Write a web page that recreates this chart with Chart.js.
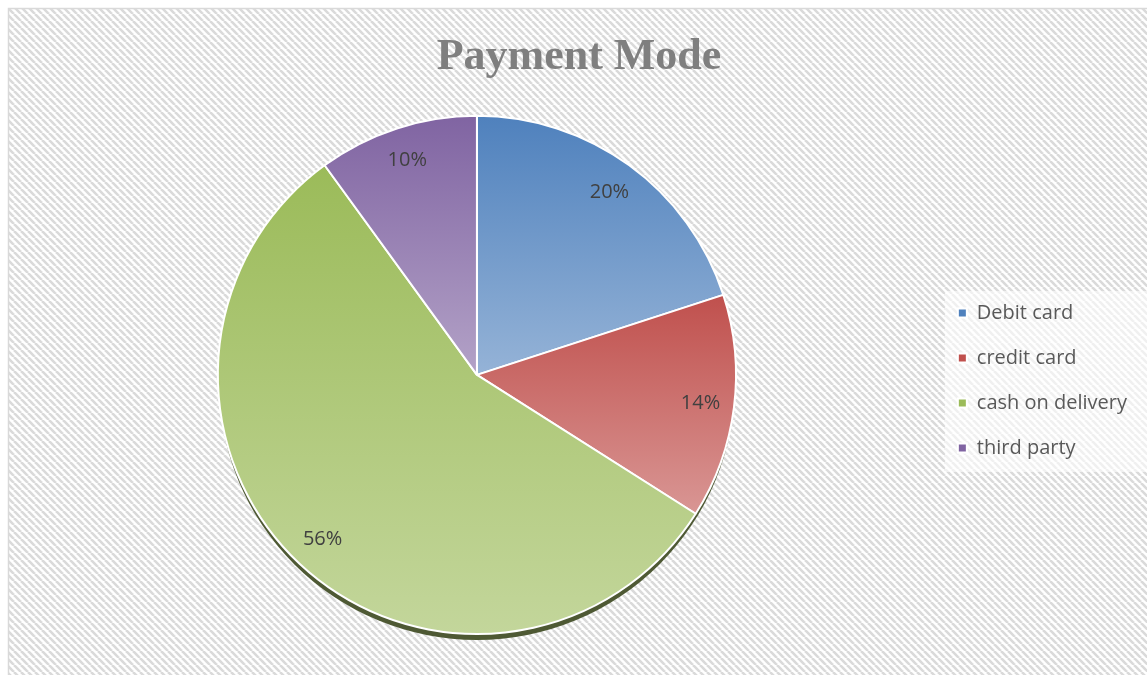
<!DOCTYPE html>
<html>
<head>
<meta charset="utf-8">
<title>Payment Mode</title>
<script src="https://cdn.jsdelivr.net/npm/chart.js@4.4.1/dist/chart.umd.min.js"></script>
<style>
  body { margin: 0; background: #fff; }
  #wrap { width: 1147px; height: 675px; }
</style>
</head>
<body>
<div id="wrap"><canvas id="paymentChart" width="1147" height="675"></canvas></div>
<script>
// data
const labels = ['Debit card', 'credit card', 'cash on delivery', 'third party'];
const shares = [20, 14, 56, 10];
const topColors = ['#4f81bd', '#c0504d', '#9bbb59', '#8064a2'];
const bottomColors = ['#95b3d7', '#d99694', '#c3d69b', '#b3a2c7'];

// diagonal hatch tile for the chart background
function hatchPattern(ctx) {
    const tile = document.createElement('canvas');
    tile.width = 7; tile.height = 7;
    const t = tile.getContext('2d');
    t.fillStyle = '#ffffff';
    t.fillRect(0, 0, 7, 7);
    t.strokeStyle = '#dadada';
    t.lineWidth = 2.6;
    for (const k of [-7, 0, 7]) {
        t.beginPath();
        t.moveTo(k, 0);
        t.lineTo(k + 7, 7);
        t.stroke();
    }
    return ctx.createPattern(tile, 'repeat');
}

const backgroundPlugin = {
    id: 'hatchBackground',
    beforeDraw(chart) {
        const { ctx, width, height } = chart;
        ctx.save();
        ctx.fillStyle = '#ffffff';
        ctx.fillRect(0, 0, width, height);
        ctx.fillStyle = hatchPattern(ctx);
        ctx.fillRect(9, 9, width - 9, height - 9);
        ctx.strokeStyle = '#d9d9d9';
        ctx.lineWidth = 1.5;
        ctx.beginPath();
        ctx.moveTo(8.5, height);
        ctx.lineTo(8.5, 8.5);
        ctx.lineTo(width, 8.5);
        ctx.stroke();
        // pale box behind the legend
        ctx.fillStyle = 'rgba(255,255,255,0.6)';
        ctx.fillRect(945, 291, width - 945, 181);
        ctx.restore();
    }
};

// shadow under the pie, vertical gradient per slice, percentage labels
const sliceStylePlugin = {
    id: 'sliceStyle',
    beforeDatasetsDraw(chart) {
        const { ctx } = chart;
        const arcs = chart.getDatasetMeta(0).data;
        if (!arcs.length) return;
        const { x, y, outerRadius } = arcs[0];
        ctx.save();
        ctx.fillStyle = '#4e5934';
        ctx.beginPath();
        ctx.arc(x, y + 7, outerRadius - 1, 0, Math.PI * 2);
        ctx.fill();
        ctx.restore();

        arcs.forEach((arc, i) => {
            const a0 = arc.startAngle, a1 = arc.endAngle, r = arc.outerRadius;
            const ys = [arc.y, arc.y + r * Math.sin(a0), arc.y + r * Math.sin(a1)];
            for (let k = -2; k <= 2; k++) {
                for (const base of [-Math.PI / 2, Math.PI / 2]) {
                    const a = base + k * 2 * Math.PI;
                    if (a > a0 && a < a1) ys.push(arc.y + r * Math.sin(a));
                }
            }
            const g = ctx.createLinearGradient(0, Math.min(...ys), 0, Math.max(...ys));
            g.addColorStop(0, topColors[i]);
            g.addColorStop(1, bottomColors[i]);
            arc.options = Object.assign({}, arc.options, { backgroundColor: g });
        });
    },
    afterDatasetsDraw(chart) {
        const { ctx } = chart;
        const arcs = chart.getDatasetMeta(0).data;
        ctx.save();
        ctx.font = '20px "Open Sans", sans-serif';
        ctx.fillStyle = '#404040';
        ctx.textAlign = 'center';
        ctx.textBaseline = 'middle';
        arcs.forEach((arc, i) => {
            const mid = (arc.startAngle + arc.endAngle) / 2;
            const r = arc.outerRadius * 0.87;
            ctx.fillText(shares[i] + '%', arc.x + Math.cos(mid) * r, arc.y + Math.sin(mid) * r);
        });
        ctx.restore();
    }
};

new Chart(document.getElementById('paymentChart'), {
    type: 'pie',
    data: {
        labels: labels,
        datasets: [{
            data: shares,
            backgroundColor: topColors,
            borderColor: '#ffffff',
            borderWidth: 2
        }]
    },
    options: {
        responsive: false,
        animation: false,
        layout: { padding: { top: 21, bottom: 40, left: 21, right: 10 } },
        plugins: {
            title: {
                display: true,
                text: 'Payment Mode',
                color: '#7f7f7f',
                font: { family: '"Liberation Serif", serif', size: 44, weight: 'bold' },
                padding: { top: 10, bottom: 31 }
            },
            legend: {
                position: 'right',
                // empty legend title only pushes the items down
                title: { display: true, text: '', font: { size: 10 }, padding: { top: 93, bottom: 0 } },
                labels: {
                    boxWidth: 9,
                    boxHeight: 9,
                    padding: 25,
                    color: '#595959',
                    font: { family: '"Open Sans", sans-serif', size: 20 }
                }
            },
            tooltip: { enabled: false }
        }
    },
    plugins: [backgroundPlugin, sliceStylePlugin]
});
</script>
</body>
</html>
